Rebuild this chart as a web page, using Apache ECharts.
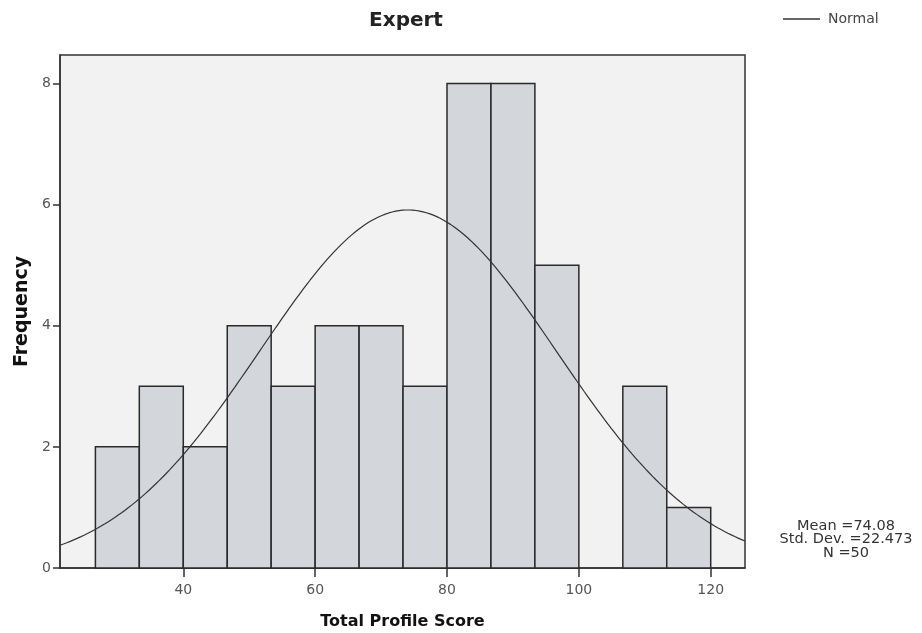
<!DOCTYPE html>
<html>
<head>
<meta charset="utf-8">
<script src="https://cdn.jsdelivr.net/npm/echarts@6/dist/echarts.min.js"></script>
<style>
  html, body { margin: 0; padding: 0; background: #fff; }
  #chart { width: 922px; height: 633px; }
</style>
</head>
<body>
<div id="chart"></div>
<script>
// Histogram bins of the total profile score (bin edges) and their counts
const binStarts = [26.67, 33.33, 40, 46.67, 53.33, 60, 66.67, 73.33, 80, 86.67, 93.33, 100, 106.67, 113.33];
const binEnds   = [33.33, 40, 46.67, 53.33, 60, 66.67, 73.33, 80, 86.67, 93.33, 100, 106.67, 113.33, 120];
const counts    = [2, 3, 2, 4, 3, 4, 4, 3, 8, 8, 5, 0, 3, 1];

// Summary statistics shown beside the plot
const meanScore = 74.08;
const stdDev = 22.473;
const sampleN = 50;

// Axis tick labels
const xTicks = [40, 60, 80, 100, 120];
const yTicks = [0, 2, 4, 6, 8];

const xMin = 21.3, xMax = 125.2, yMax = 8.47;

// Fitted normal curve, scaled to counts per bin
const binWidth = binEnds[0] - binStarts[0];
const normalCurve = [];
for (let i = 0; i <= 200; i++) {
  const x = xMin + (xMax - xMin) * i / 200;
  const z = (x - meanScore) / stdDev;
  const y = sampleN * binWidth * Math.exp(-0.5 * z * z) / (stdDev * Math.sqrt(2 * Math.PI));
  normalCurve.push([x, y]);
}

const histData = counts.map((c, i) => [binStarts[i], binEnds[i], c]);

const chart = echarts.init(document.getElementById('chart'));
const font = 'DejaVu Sans, Liberation Sans, sans-serif';

chart.setOption({
  animation: false,
  title: {
    text: 'Expert',
    left: 401, top: 6, textAlign: 'center',
    textStyle: { fontFamily: font, fontSize: 20, fontWeight: 'bold', color: '#222' }
  },
  legend: {
    left: 778, top: 7,
    itemWidth: 37, itemHeight: 1.5, itemGap: 6,
    data: [{ name: 'Normal', icon: 'rect' }],
    textStyle: { fontFamily: font, fontSize: 14, color: '#444', padding: [0, 0, 0, 3] }
  },
  grid: {
    left: 60, right: 177, top: 55, bottom: 65,
    outerBoundsMode: 'none',
    show: true, backgroundColor: '#f2f2f2', borderColor: '#333', borderWidth: 1.5
  },
  xAxis: {
    type: 'value', min: xMin, max: xMax,
    name: 'Total Profile Score', nameLocation: 'middle', nameGap: 46,
    nameTextStyle: { fontFamily: font, fontSize: 16, fontWeight: 'bold', color: '#111' },
    axisLine: { show: true, lineStyle: { color: '#333', width: 1.5 } },
    axisTick: { show: true, length: 9, customValues: xTicks, lineStyle: { color: '#333', width: 1.5 } },
    axisLabel: { customValues: xTicks, fontFamily: font, fontSize: 14, color: '#555', margin: 15 },
    splitLine: { show: false }
  },
  yAxis: {
    type: 'value', min: 0, max: yMax,
    name: 'Frequency', nameLocation: 'middle', nameGap: 27,
    nameTextStyle: { fontFamily: font, fontSize: 19, fontWeight: 'bold', color: '#111' },
    axisLine: { show: true, lineStyle: { color: '#333', width: 1.5 } },
    axisTick: { show: true, length: 7, customValues: yTicks, lineStyle: { color: '#333', width: 1.5 } },
    axisLabel: { customValues: yTicks, fontFamily: font, fontSize: 14, color: '#555', margin: 9 },
    splitLine: { show: false }
  },
  series: [
    {
      type: 'custom',
      name: 'Histogram',
      data: histData,
      encode: { x: [0, 1], y: 2 },
      renderItem: function (params, api) {
        const c = api.value(2);
        if (!c) return null;
        const p0 = api.coord([api.value(0), c]);
        const p1 = api.coord([api.value(1), 0]);
        return {
          type: 'rect',
          shape: { x: p0[0], y: p0[1], width: p1[0] - p0[0], height: p1[1] - p0[1] },
          style: { fill: '#d3d6da', stroke: '#2a2a2a', lineWidth: 1.5 }
        };
      },
      z: 2
    },
    {
      type: 'line',
      name: 'Normal',
      data: normalCurve,
      showSymbol: false,
      smooth: false,
      lineStyle: { color: '#333', width: 1.2 },
      itemStyle: { color: '#333' },
      z: 3
    }
  ],
  graphic: [
    {
      type: 'text', x: 846, y: 519,
      style: {
        text: 'Mean =' + meanScore.toFixed(2) + '\nStd. Dev. =' + stdDev.toFixed(3) + '\nN =' + sampleN,
        fontFamily: font, fontSize: 14.5, lineHeight: 13.5, fill: '#333', align: 'center'
      }
    }
  ]
});
</script>
</body>
</html>
